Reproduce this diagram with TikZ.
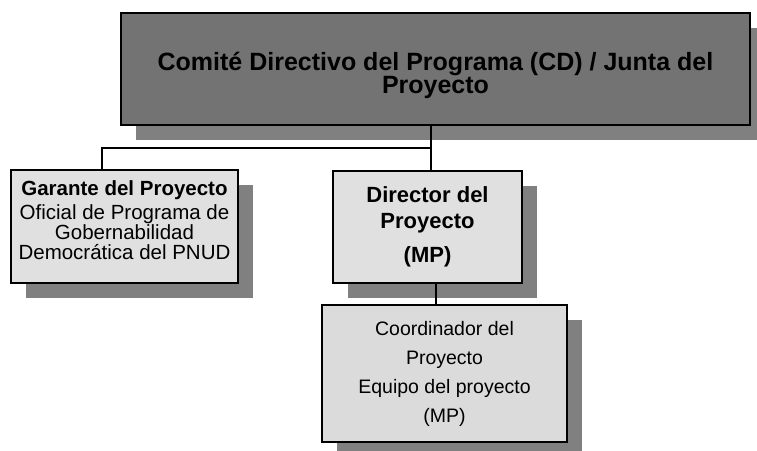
\documentclass[tikz,border=0pt]{standalone}
\usepackage{fontspec}
\setmainfont{Liberation Sans}
\usetikzlibrary{shadows}
\begin{document}
\begin{tikzpicture}[x=1pt,y=-1pt,
  orgbox/.style={rectangle, draw=black, line width=1.6pt, align=center, inner sep=2pt,
    drop shadow={shadow xshift=15pt, shadow yshift=-15pt, fill=black!50, opacity=1}},
  link/.style={draw=black, line width=1.2pt}]
\useasboundingbox (0,0) rectangle (757,450);
\node [orgbox, fill=black!55, minimum width=629pt, minimum height=112pt,
  font=\fontsize{25}{23}\selectfont\bfseries] (cd) at (435.5,69)
  {\rule{0pt}{32pt}Comité Directivo del Programa (CD) / Junta del\\Proyecto};
\node [orgbox, fill=black!12, minimum width=227pt, minimum height=113pt,
  font=\fontsize{20.5}{20}\selectfont] (gar) at (124.5,226.5)
  {{\bfseries Garante del Proyecto}\\[4pt]Oficial de Programa de\\Gobernabilidad\\Democrática del PNUD\\[-8pt]\mbox{}};
\node [orgbox, fill=black!12, minimum width=189pt, minimum height=112pt,
  font=\fontsize{22}{26}\selectfont\bfseries] (dir) at (427.5,227)
  {Director del\\Proyecto\\[8pt](MP)};
\node [orgbox, fill=black!14, minimum width=245pt, minimum height=137pt,
  font=\fontsize{19.5}{29}\selectfont] (coord) at (444.5,373.5)
  {Coordinador del\\Proyecto\\Equipo del proyecto\\(MP)};
% connectors
\coordinate (fork) at (431,148);
\draw [link] (cd.south -| fork) -- (dir.north -| fork);
\draw [link] (fork) -| ([xshift=-22.5pt]gar.north);
\draw [link] ([xshift=8.5pt]dir.south) -- ([xshift=8.5pt]dir.south |- coord.north);
\end{tikzpicture}
\end{document}
